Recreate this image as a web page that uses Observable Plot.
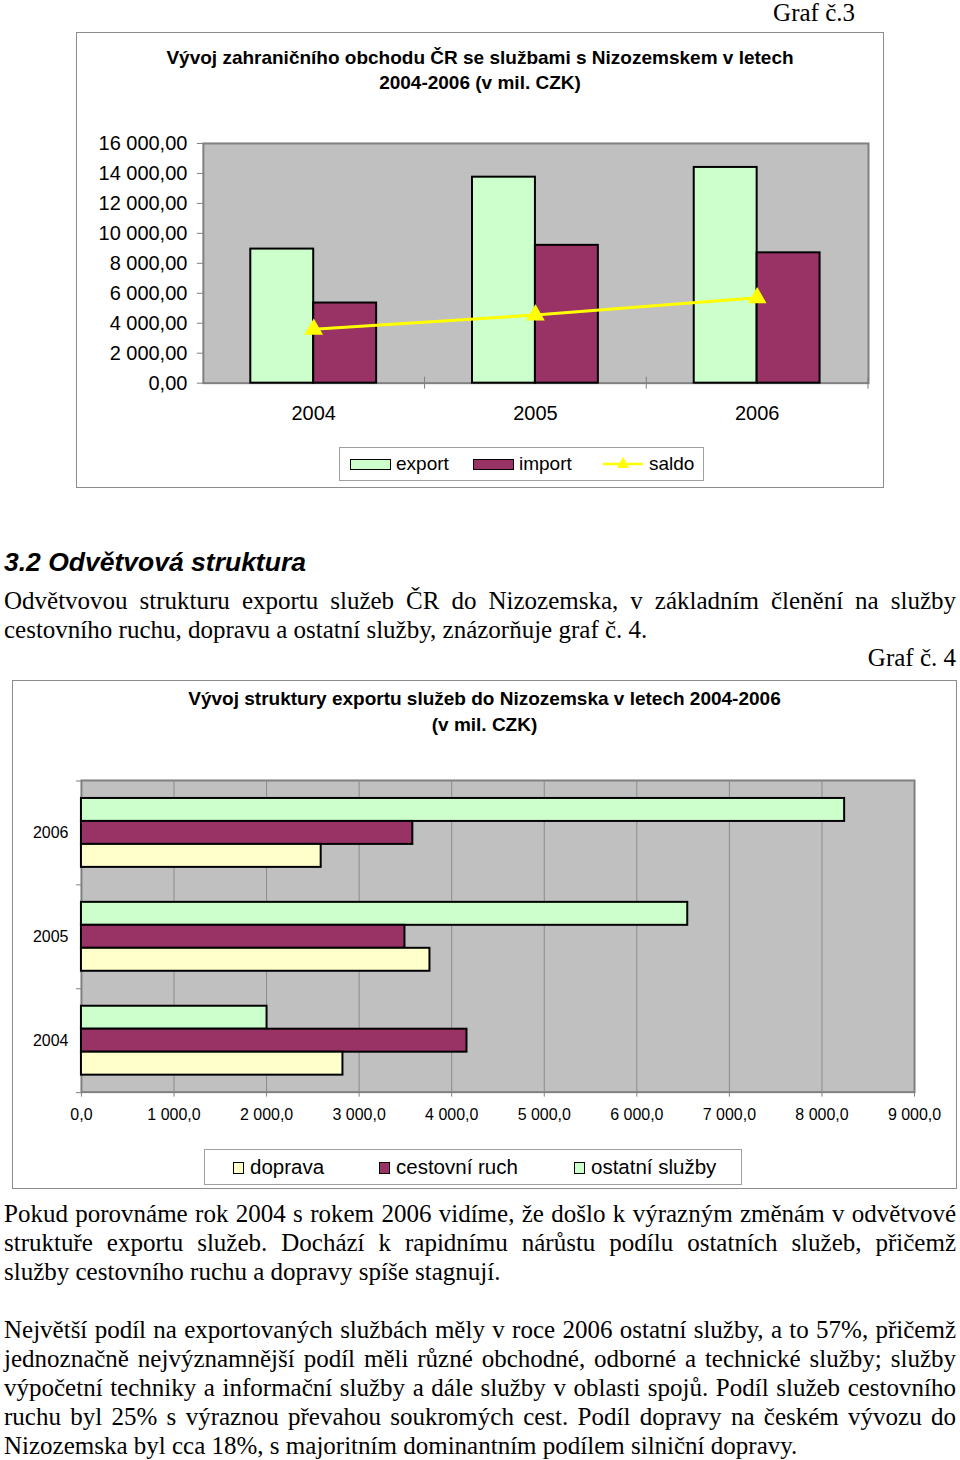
<!DOCTYPE html>
<html><head><meta charset="utf-8">
<script src="https://cdn.jsdelivr.net/npm/d3@7"></script>
<script src="https://cdn.jsdelivr.net/npm/@observablehq/plot@0.6"></script>
<style>
html,body{margin:0;padding:0;background:#fff;}
body{width:960px;height:1460px;position:relative;overflow:hidden;font-family:"Liberation Sans",Arial,sans-serif;color:#000;}
.abs{position:absolute;}
.serif{font-family:"Liberation Serif","Times New Roman",serif;}
.box{position:absolute;border:1px solid #8c8c8c;box-sizing:border-box;background:#fff;}
.ctitle{position:absolute;left:0;right:0;text-align:center;font-weight:bold;font-size:19px;line-height:25px;}
.line{position:absolute;left:4px;width:952px;font-size:25px;line-height:29px;white-space:nowrap;}
.just{text-align:justify;text-align-last:justify;white-space:normal;}
.legend{position:absolute;border:1px solid #a0a0a0;box-sizing:border-box;background:#fff;}
.legend .it{position:absolute;white-space:nowrap;}
svg{overflow:visible;}
</style>
</head><body>
<script>
// ---------- DATA ----------
const years = ["2004", "2005", "2006"];
const exportVals = [8950, 13750, 14400];
const importVals = [5350, 9200, 8700];
const saldoVals = [3600, 4550, 5700];
const series1 = ["export", "import", "saldo"];
const colors1 = ["#ccffcc", "#993366", "#ffff00"];
const yTicks1 = [0, 2000, 4000, 6000, 8000, 10000, 12000, 14000, 16000];

const ostatniVals = [2005, 6550, 8245];
const cestovniVals = [4165, 3495, 3580];
const dopravaVals = [2825, 3765, 2590];
const series2 = ["doprava", "cestovní ruch", "ostatní služby"];
const colors2 = ["#ffffcc", "#993366", "#ccffcc"];
const xTicks2 = [0, 1000, 2000, 3000, 4000, 5000, 6000, 7000, 8000, 9000];

const title1 = ["Vývoj zahraničního obchodu ČR se službami s Nizozemskem v letech", "2004-2006 (v mil. CZK)"];
const title2 = ["Vývoj struktury exportu služeb do Nizozemska v letech 2004-2006", "(v mil. CZK)"];

// ---------- helpers ----------
const loc = d3.formatLocale({decimal: ",", thousands: " ", grouping: [3]});
const fmt2 = loc.format(",.2f");
const fmt1 = loc.format(",.1f");
const font = "Liberation Sans, Arial, sans-serif";

function el(tag, cls, style, text) {
  const e = document.createElement(tag);
  if (cls) e.className = cls;
  if (style) e.setAttribute("style", style);
  if (text != null) e.textContent = text;
  return e;
}
const body = document.body;

// Graf č.3 label
body.appendChild(el("div", "abs serif", "right:105px;top:3px;font-size:25px;line-height:20px;", "Graf č.3"));

// ---------- CHART 1 ----------
const box1 = el("div", "box", "left:76px;top:32px;width:808px;height:456px;");
body.appendChild(box1);
title1.forEach((t, i) => box1.appendChild(el("div", "ctitle", `top:${12 + i * 25}px;`, t)));

const d1 = years.map((y, i) => ({year: y, exp: exportVals[i], imp: importVals[i], saldo: saldoVals[i]}));
const p1 = Plot.plot({
  width: 807, height: 307,
  marginLeft: 126, marginRight: 15, marginTop: 22, marginBottom: 45,
  style: {fontFamily: font, background: "transparent", overflow: "visible"},
  x: {domain: years, paddingInner: 0.716, paddingOuter: 0.358, axis: null, label: null},
  y: {domain: [0, 16000], axis: null, label: null},
  marks: [
    Plot.frame({fill: "#c0c0c0", stroke: "#808080", strokeWidth: 2}),
    Plot.barY(d1, {x: "year", y: "exp", dx: -31.5, fill: colors1[0], stroke: "#000", strokeWidth: 2}),
    Plot.barY(d1, {x: "year", y: "imp", dx: 31.5, fill: colors1[1], stroke: "#000", strokeWidth: 2}),
    Plot.line(d1, {x: "year", y: "saldo", stroke: colors1[2], strokeWidth: 3}),
    Plot.dot(d1, {x: "year", y: "saldo", symbol: "triangle", r: 6, fill: colors1[2], stroke: colors1[2]}),
    Plot.axisY({ticks: yTicks1, tickFormat: fmt2, tickSize: 6, tickPadding: 10, fontSize: 20, stroke: "#808080", label: null}),
    Plot.axisX({tickSize: 0, tickPadding: 23, fontSize: 20, label: null}),
    Plot.ruleX(years, {x: d => d, y1: 0, y2: 0, dx: 111, insetTop: -6, insetBottom: -6, stroke: "#808080"})
  ]
});
p1.style.position = "absolute";
p1.style.left = "0px";
p1.style.top = "88px";
box1.appendChild(p1);

const leg1 = el("div", "legend", "left:262px;top:414px;width:365px;height:34px;");
box1.appendChild(leg1);
const leg1Pos = [10, 133, 263];
series1.forEach((s, i) => {
  const x0 = leg1Pos[i];
  if (i < 2) {
    leg1.appendChild(el("div", "it", `left:${x0}px;top:11px;width:41px;height:11px;background:${colors1[i]};border:1.5px solid #000;box-sizing:border-box;`));
  } else {
    const sv = document.createElementNS("http://www.w3.org/2000/svg", "svg");
    sv.setAttribute("width", "40"); sv.setAttribute("height", "20");
    sv.setAttribute("style", `position:absolute;left:${x0}px;top:6px;`);
    sv.innerHTML = `<line x1="0" y1="10" x2="40" y2="10" stroke="${colors1[i]}" stroke-width="2.5"/><path d="M20,3 L26,14 L14,14 Z" fill="${colors1[i]}"/>`;
    leg1.appendChild(sv);
  }
  leg1.appendChild(el("div", "it", `left:${x0 + 46}px;top:5px;font-size:19px;line-height:22px;`, s));
});

// ---------- TEXT between ----------
body.appendChild(el("div", "abs", "left:4px;top:546px;font-size:26.5px;line-height:32px;font-weight:bold;font-style:italic;", "3.2 Odvětvová struktura"));
const para1 = [
  ["Odvětvovou strukturu exportu služeb ČR do Nizozemska, v základním členění na služby", true],
  ["cestovního ruchu, dopravu a ostatní služby, znázorňuje graf č. 4.", false]
];
para1.forEach((l, i) => body.appendChild(el("div", "line serif" + (l[1] ? " just" : ""), `top:${586 + i * 29}px;`, l[0])));
body.appendChild(el("div", "abs serif", "right:4px;top:643px;font-size:25px;line-height:29px;", "Graf č. 4"));

// ---------- CHART 2 ----------
const box2 = el("div", "box", "left:12px;top:680px;width:945px;height:509px;");
body.appendChild(box2);
title2.forEach((t, i) => box2.appendChild(el("div", "ctitle", `top:${5 + i * 26}px;line-height:26px;`, t)));

const d2 = years.map((y, i) => ({year: y, ost: ostatniVals[i], ces: cestovniVals[i], dop: dopravaVals[i]}));
const p2 = Plot.plot({
  width: 944, height: 371,
  marginLeft: 68, marginRight: 42, marginTop: 19, marginBottom: 40,
  style: {fontFamily: font, background: "transparent", overflow: "visible"},
  x: {domain: [0, 9000], axis: null, label: null},
  y: {domain: years.slice().reverse(), paddingInner: 0.779, paddingOuter: 0.3895, axis: null, label: null},
  marks: [
    Plot.frame({fill: "#c0c0c0", stroke: "#808080", strokeWidth: 2}),
    Plot.gridX({ticks: xTicks2.slice(1, -1), stroke: "#8c8c8c", strokeOpacity: 1, strokeWidth: 1}),
    Plot.barX(d2, {y: "year", x: "ost", dy: -23, fill: colors2[2], stroke: "#000", strokeWidth: 2}),
    Plot.barX(d2, {y: "year", x: "ces", fill: colors2[1], stroke: "#000", strokeWidth: 2}),
    Plot.barX(d2, {y: "year", x: "dop", dy: 23, fill: colors2[0], stroke: "#000", strokeWidth: 2}),
    Plot.axisX({ticks: xTicks2, tickFormat: fmt1, tickSize: 5, tickPadding: 12, fontSize: 16, stroke: "#808080", label: null}),
    Plot.axisY({tickSize: 0, tickPadding: 13, fontSize: 16, label: null}),
    Plot.ruleY(years, {y: d => d, x1: 0, x2: 0, dy: -52, insetLeft: -5, stroke: "#808080"}),
    Plot.ruleY([years[0]], {y: d => d, x1: 0, x2: 0, dy: 52, insetLeft: -5, stroke: "#808080"})
  ]
});
p2.style.position = "absolute";
p2.style.left = "0px";
p2.style.top = "80px";
box2.appendChild(p2);

const leg2 = el("div", "legend", "left:191px;top:468px;width:538px;height:36px;");
box2.appendChild(leg2);
const leg2Pos = [28, 174, 369];
series2.forEach((s, i) => {
  const x0 = leg2Pos[i];
  leg2.appendChild(el("div", "it", `left:${x0}px;top:12px;width:11px;height:12px;background:${colors2[i]};border:1.5px solid #000;box-sizing:border-box;`));
  leg2.appendChild(el("div", "it", `left:${x0 + 17}px;top:4px;font-size:20.5px;line-height:26px;`, s));
});

// ---------- TEXT below ----------
const para2 = [
  ["Pokud porovnáme rok 2004 s rokem 2006 vidíme, že došlo k výrazným změnám v odvětvové", true],
  ["struktuře exportu služeb. Dochází k rapidnímu nárůstu podílu ostatních služeb, přičemž", true],
  ["služby cestovního ruchu a dopravy spíše stagnují.", false]
];
para2.forEach((l, i) => body.appendChild(el("div", "line serif" + (l[1] ? " just" : ""), `top:${1199 + i * 29}px;`, l[0])));
const para3 = [
  ["Největší podíl na  exportovaných službách měly v roce 2006 ostatní služby, a to 57%, přičemž", true],
  ["jednoznačně nejvýznamnější podíl měli různé obchodné, odborné a technické služby; služby", true],
  ["výpočetní techniky a informační služby a dále služby v oblasti spojů. Podíl služeb cestovního", true],
  ["ruchu byl 25% s výraznou převahou soukromých cest. Podíl dopravy na českém vývozu do", true],
  ["Nizozemska byl cca 18%, s majoritním dominantním podílem silniční dopravy.", false]
];
para3.forEach((l, i) => body.appendChild(el("div", "line serif" + (l[1] ? " just" : ""), `top:${1315 + i * 29}px;`, l[0])));
</script>
</body></html>
